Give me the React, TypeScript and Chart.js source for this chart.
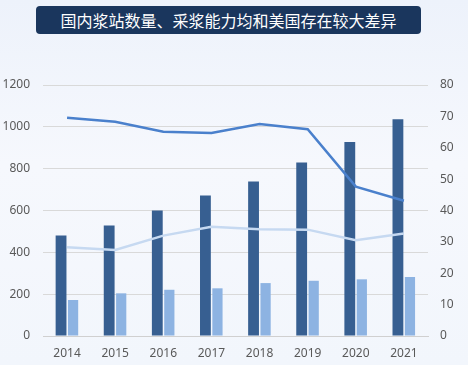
import React, { useEffect, useRef } from "react";
import { Chart, registerables } from "chart.js";

Chart.register(...registerables);

const years = ["2014", "2015", "2016", "2017", "2018", "2019", "2020", "2021"];
const barDark = [480, 528, 600, 672, 739, 830, 927, 1036];
const barLight = [172, 204, 221, 228, 253, 264, 271, 282];
const lineDark = [69.6, 68.3, 65.1, 64.7, 67.6, 65.9, 47.6, 43.1];
const lineLight = [28.3, 27.4, 32.0, 34.8, 34.0, 33.9, 30.5, 32.7];
const titleText = "国内浆站数量、采浆能力均和美国存在较大差异";

export default function App() {
  const ref = useRef<HTMLCanvasElement | null>(null);
  useEffect(() => {
    if (!ref.current) return;
    const font = { family: "'Noto Sans', 'Open Sans', sans-serif", size: 12 };
    const chart = new Chart(ref.current, {
      type: "bar",
      data: {
        labels: years,
        datasets: [
          {
            type: "line",
            data: lineDark,
            yAxisID: "y1",
            borderColor: "#4A80CC",
            borderWidth: 2.5,
            pointRadius: 0,
            tension: 0,
            order: 0,
          },
          {
            type: "line",
            data: lineLight,
            yAxisID: "y1",
            borderColor: "#C6D9F1",
            borderWidth: 2.5,
            pointRadius: 0,
            tension: 0,
            order: 1,
          },
          {
            type: "bar",
            data: barDark,
            yAxisID: "y",
            backgroundColor: "#375F91",
            categoryPercentage: 0.5,
            barPercentage: 0.9,
            order: 2,
          },
          {
            type: "bar",
            data: barLight,
            yAxisID: "y",
            backgroundColor: "#8DB3E2",
            categoryPercentage: 0.5,
            barPercentage: 0.85,
            order: 3,
          },
        ],
      },
      options: {
        animation: false,
        responsive: false,
        maintainAspectRatio: false,
        layout: { padding: { top: 85, left: 0, right: 0, bottom: 0 } },
        plugins: { legend: { display: false }, tooltip: { enabled: false }, title: { display: false } },
        scales: {
          x: {
            grid: { display: false, drawTicks: false },
            border: { display: true, color: "#D0D0D0", width: 1 },
            ticks: { color: "#595959", font, padding: 10 },
            afterFit: (s: any) => { s.height = 29; },
          },
          y: {
            position: "left",
            min: 0,
            max: 1200,
            ticks: { stepSize: 200, color: "#595959", font, padding: 13, callback: (v: any) => String(v) },
            grid: { color: "#D9D9D9", drawTicks: false },
            border: { display: false },
            afterFit: (s: any) => { s.width = 43; },
          },
          y1: {
            position: "right",
            min: 0,
            max: 80,
            ticks: { stepSize: 10, color: "#595959", font, padding: 12, callback: (v: any) => String(v) },
            grid: { display: false, drawTicks: false },
            border: { display: false },
            afterFit: (s: any) => { s.width = 40; },
          },
        },
      },
    });
    return () => chart.destroy();
  }, []);
  return (
    <div
      style={{
        position: "fixed",
        left: 0,
        top: 0,
        width: 468,
        height: 365,
        background: "linear-gradient(180deg, #EDF2FB 0%, #F6F8FD 45%, #F2F6FC 100%)",
        overflow: "hidden",
      }}
    >
      <canvas ref={ref} width={468} height={365} style={{ position: "absolute", left: 0, top: 0 }} />
      <div
        style={{
          position: "absolute",
          left: 36,
          top: 6,
          width: 385,
          height: 28,
          background: "#1A365D",
          borderRadius: 4,
          color: "#FFFFFF",
          fontFamily: "'Noto Sans CJK SC', sans-serif",
          fontSize: 16,
          lineHeight: "28px",
          textAlign: "center",
        }}
      >
        {titleText}
      </div>
    </div>
  );
}
